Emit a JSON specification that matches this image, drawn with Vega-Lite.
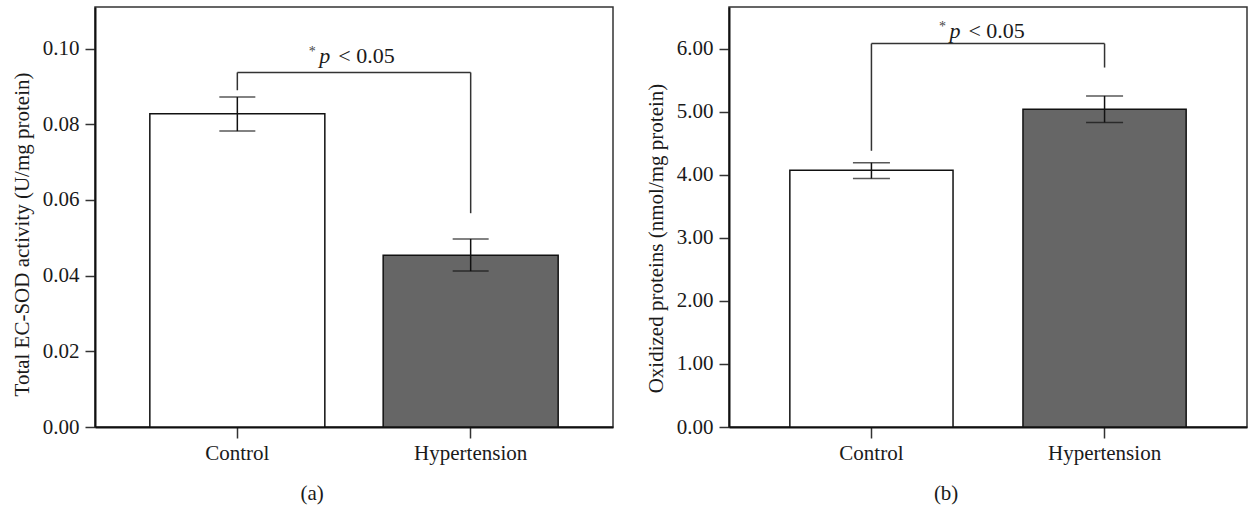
{
  "$schema": "https://vega.github.io/schema/vega-lite/v6.json",
  "padding": {"left": 10, "top": 6, "right": 0, "bottom": 0},
  "spacing": 30,
  "config": {
    "font": "Liberation Serif",
    "view": {"stroke": "#333333", "strokeWidth": 1.5},
    "axis": {"labelFont": "Liberation Serif", "titleFont": "Liberation Serif", "labelFontSize": 21, "titleFontSize": 21, "titleFontWeight": "normal", "labelColor": "#1a1a1a", "titleColor": "#1a1a1a", "domainColor": "#111111", "domainWidth": 2, "tickColor": "#333333", "tickWidth": 1.5, "grid": false},
    "title": {"font": "Liberation Serif", "fontSize": 21, "fontWeight": "normal", "color": "#1a1a1a"}
  },
  "hconcat": [
    {
      "width": 518,
      "height": 420,
      "title": {"text": "(a)", "orient": "bottom", "anchor": "middle", "frame": "bounds", "offset": 20},
      "data": {"values": [
        {"group": "Control", "mean": 0.0828, "lo": 0.0782, "hi": 0.0872, "leg": 0.0890, "bracket": 0.0937},
        {"group": "Hypertension", "mean": 0.0454, "lo": 0.0412, "hi": 0.0497, "leg": 0.0565, "bracket": 0.0937}
      ]},
      "encoding": {
        "x": {"field": "group", "type": "nominal", "scale": {"paddingInner": 0.25, "paddingOuter": 0.235},
              "axis": {"title": null, "labelAngle": 0, "tickSize": 11, "labelPadding": 4}}
      },
      "layer": [
        {
          "mark": {"type": "bar", "stroke": "#111111", "strokeWidth": 1.5},
          "encoding": {
            "y": {"field": "mean", "type": "quantitative", "scale": {"domain": [0, 0.111], "nice": false},
                  "axis": {"title": "Total EC-SOD activity (U/mg protein)", "values": [0, 0.02, 0.04, 0.06, 0.08, 0.1], "format": ".2f", "tickSize": 10, "labelPadding": 6, "titlePadding": 10, "titleY": 227}},
            "fill": {"field": "group", "type": "nominal", "scale": {"range": ["#ffffff", "#666666"]}, "legend": null}
          }
        },
        {
          "mark": {"type": "rule", "color": "#111111", "strokeWidth": 1.5},
          "encoding": {"y": {"field": "lo", "type": "quantitative"}, "y2": {"field": "hi"}}
        },
        {
          "mark": {"type": "tick", "color": "#111111", "size": 36, "thickness": 1.5},
          "encoding": {"y": {"field": "lo", "type": "quantitative"}}
        },
        {
          "mark": {"type": "tick", "color": "#111111", "size": 36, "thickness": 1.5},
          "encoding": {"y": {"field": "hi", "type": "quantitative"}}
        },
        {
          "mark": {"type": "rule", "color": "#333333", "strokeWidth": 1.5},
          "encoding": {"y": {"field": "leg", "type": "quantitative"}, "y2": {"field": "bracket"}}
        },
        {
          "data": {"values": [{"from": "Control", "to": "Hypertension", "y": 0.0937}]},
          "mark": {"type": "rule", "color": "#333333", "strokeWidth": 1.5},
          "encoding": {"x": {"field": "from", "type": "nominal"}, "x2": {"field": "to"}, "y": {"field": "y", "type": "quantitative"}}
        },
        {
          "data": {"values": [{"g": "Control", "y": 0.0963, "star": "*", "p": "p", "rest": "< 0.05"}]},
          "encoding": {"x": {"field": "g", "type": "nominal"}, "y": {"field": "y", "type": "quantitative"}},
          "layer": [
            {"mark": {"type": "text", "align": "center", "baseline": "alphabetic", "fontSize": 14, "dx": 75, "dy": -7, "color": "#444444"}, "encoding": {"text": {"field": "star"}}},
            {"mark": {"type": "text", "align": "left", "baseline": "alphabetic", "fontSize": 22, "fontStyle": "italic", "dx": 82, "color": "#1a1a1a"}, "encoding": {"text": {"field": "p"}}},
            {"mark": {"type": "text", "align": "left", "baseline": "alphabetic", "fontSize": 22, "dx": 101, "color": "#1a1a1a"}, "encoding": {"text": {"field": "rest"}}}
          ]
        }
      ]
    },
    {
      "width": 518,
      "height": 420,
      "title": {"text": "(b)", "orient": "bottom", "anchor": "middle", "frame": "bounds", "offset": 20},
      "data": {"values": [
        {"group": "Control", "mean": 4.07, "lo": 3.94, "hi": 4.19, "leg": 4.38, "bracket": 6.08},
        {"group": "Hypertension", "mean": 5.04, "lo": 4.83, "hi": 5.25, "leg": 5.70, "bracket": 6.08}
      ]},
      "encoding": {
        "x": {"field": "group", "type": "nominal", "scale": {"paddingInner": 0.3, "paddingOuter": 0.261},
              "axis": {"title": null, "labelAngle": 0, "tickSize": 11, "labelPadding": 4}}
      },
      "layer": [
        {
          "mark": {"type": "bar", "stroke": "#111111", "strokeWidth": 1.5},
          "encoding": {
            "y": {"field": "mean", "type": "quantitative", "scale": {"domain": [0, 6.66], "nice": false},
                  "axis": {"title": "Oxidized proteins (nmol/mg protein)", "values": [0, 1, 2, 3, 4, 5, 6], "format": ".2f", "tickSize": 10, "labelPadding": 6, "titlePadding": 10, "titleY": 231}},
            "fill": {"field": "group", "type": "nominal", "scale": {"range": ["#ffffff", "#666666"]}, "legend": null}
          }
        },
        {
          "mark": {"type": "rule", "color": "#111111", "strokeWidth": 1.5},
          "encoding": {"y": {"field": "lo", "type": "quantitative"}, "y2": {"field": "hi"}}
        },
        {
          "mark": {"type": "tick", "color": "#111111", "size": 37, "thickness": 1.5},
          "encoding": {"y": {"field": "lo", "type": "quantitative"}}
        },
        {
          "mark": {"type": "tick", "color": "#111111", "size": 37, "thickness": 1.5},
          "encoding": {"y": {"field": "hi", "type": "quantitative"}}
        },
        {
          "mark": {"type": "rule", "color": "#333333", "strokeWidth": 1.5},
          "encoding": {"y": {"field": "leg", "type": "quantitative"}, "y2": {"field": "bracket"}}
        },
        {
          "data": {"values": [{"from": "Control", "to": "Hypertension", "y": 6.08}]},
          "mark": {"type": "rule", "color": "#333333", "strokeWidth": 1.5},
          "encoding": {"x": {"field": "from", "type": "nominal"}, "x2": {"field": "to"}, "y": {"field": "y", "type": "quantitative"}}
        },
        {
          "data": {"values": [{"g": "Control", "y": 6.17, "star": "*", "p": "p", "rest": "< 0.05"}]},
          "encoding": {"x": {"field": "g", "type": "nominal"}, "y": {"field": "y", "type": "quantitative"}},
          "layer": [
            {"mark": {"type": "text", "align": "center", "baseline": "alphabetic", "fontSize": 14, "dx": 71, "dy": -7, "color": "#444444"}, "encoding": {"text": {"field": "star"}}},
            {"mark": {"type": "text", "align": "left", "baseline": "alphabetic", "fontSize": 22, "fontStyle": "italic", "dx": 78, "color": "#1a1a1a"}, "encoding": {"text": {"field": "p"}}},
            {"mark": {"type": "text", "align": "left", "baseline": "alphabetic", "fontSize": 22, "dx": 97, "color": "#1a1a1a"}, "encoding": {"text": {"field": "rest"}}}
          ]
        }
      ]
    }
  ]
}
